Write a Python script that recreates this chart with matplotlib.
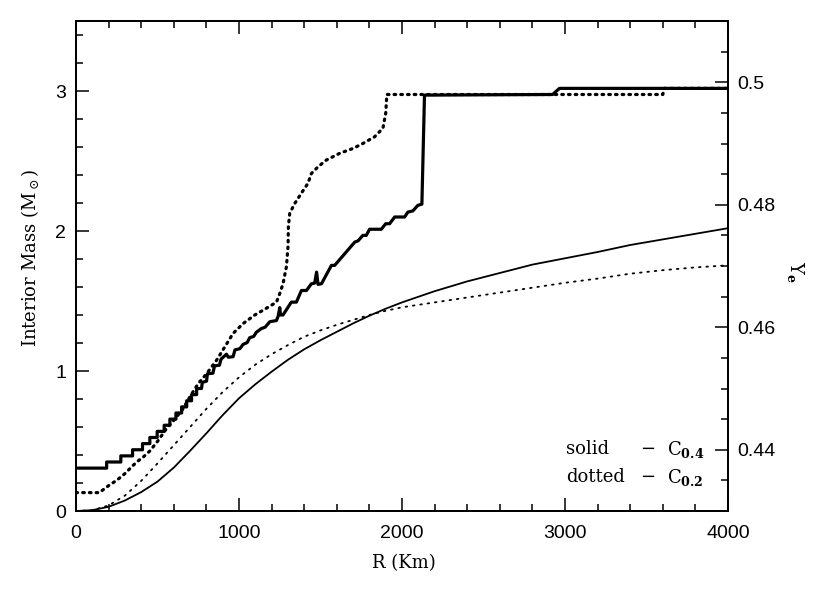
import matplotlib
matplotlib.use("Agg")
import matplotlib.pyplot as plt
from matplotlib.ticker import MultipleLocator

plt.rcParams["font.family"] = ["Liberation Sans", "DejaVu Sans"]
plt.rcParams["mathtext.fontset"] = "dejavuserif"

# interior mass (M_sun) vs radius (km), thin curves, left axis
r_mass_04 = [0, 100, 200, 300, 400, 500, 600, 700, 800, 900, 1000, 1100, 1200,
             1300, 1400, 1500, 1600, 1700, 1800, 1900, 2000, 2200, 2400, 2600,
             2800, 3000, 3200, 3400, 3600, 3800, 4000]
mass_04 = [0.0, 0.006, 0.03, 0.075, 0.135, 0.21, 0.31, 0.43, 0.555, 0.685,
           0.805, 0.905, 0.995, 1.08, 1.155, 1.22, 1.28, 1.34, 1.395, 1.445,
           1.49, 1.57, 1.64, 1.70, 1.76, 1.805, 1.85, 1.90, 1.94, 1.98, 2.02]

r_mass_02 = [0, 100, 200, 300, 400, 500, 600, 700, 800, 900, 1000, 1100, 1200,
             1300, 1400, 1500, 1600, 1700, 1800, 1900, 2000, 2200, 2400, 2600,
             2800, 3000, 3200, 3400, 3600, 3800, 4000]
mass_02 = [0.0, 0.005, 0.04, 0.11, 0.215, 0.34, 0.47, 0.60, 0.73, 0.85, 0.955,
           1.045, 1.12, 1.185, 1.245, 1.29, 1.33, 1.365, 1.40, 1.43, 1.455,
           1.49, 1.525, 1.56, 1.595, 1.63, 1.66, 1.695, 1.72, 1.74, 1.755]

# electron fraction Ye, thick curves, right axis
r_ye_04 = [0, 188, 188, 275, 275, 347, 347, 408, 408, 453, 453, 498, 498, 541,
           541, 576, 576, 613, 613, 648, 648, 679, 679, 709, 709, 740, 740, 770,
           775, 801, 806, 840, 850, 880, 890, 923, 935, 964, 975, 1005, 1025,
           1050, 1066, 1090, 1107, 1138, 1160, 1189, 1230, 1240, 1250, 1255,
           1270, 1321, 1352, 1383, 1414, 1444, 1464, 1476, 1485, 1506, 1567,
           1587, 1710, 1730, 1760, 1781, 1801, 1873, 1900, 1924, 1955, 2016,
           2036, 2067, 2097, 2122, 2138, 2924, 2966, 4000]
ye_04 = [0.437, 0.437, 0.438, 0.438, 0.439, 0.439, 0.440, 0.440, 0.441, 0.441,
         0.442, 0.442, 0.443, 0.443, 0.444, 0.444, 0.445, 0.445, 0.446, 0.446,
         0.447, 0.447, 0.448, 0.448, 0.449, 0.449, 0.450, 0.450, 0.451, 0.4512,
         0.4524, 0.4525, 0.4537, 0.4538, 0.4548, 0.4556, 0.4551, 0.4552,
         0.4563, 0.4565, 0.4572, 0.4575, 0.4583, 0.4585, 0.4592, 0.4598,
         0.4600, 0.4609, 0.4611, 0.4618, 0.4632, 0.4620, 0.4620, 0.4641,
         0.4641, 0.4660, 0.4660, 0.4671, 0.4672, 0.4690, 0.4670, 0.4671,
         0.4701, 0.4701, 0.4739, 0.4741, 0.4750, 0.4750, 0.4760, 0.4760,
         0.4769, 0.4769, 0.4780, 0.4780, 0.4788, 0.4790, 0.4799, 0.4801,
         0.4979, 0.4980, 0.4990, 0.4990]

r_ye_02 = [0, 143, 198, 249, 300, 341, 372, 412, 453, 504, 556, 600, 657, 700,
           750, 801, 862, 913, 964, 1025, 1097, 1168, 1230, 1250, 1270, 1291,
           1301, 1303, 1311, 1342, 1383, 1423, 1444, 1485, 1536, 1618, 1700,
           1760, 1832, 1883, 1900, 1907, 3600, 3610, 4000]
ye_02 = [0.4330, 0.4330, 0.4341, 0.4350, 0.4361, 0.4372, 0.4380, 0.4388,
         0.4398, 0.4415, 0.4435, 0.4448, 0.4467, 0.4487, 0.4508, 0.4524,
         0.4546, 0.4568, 0.4590, 0.4606, 0.4620, 0.4631, 0.4641, 0.4655,
         0.4671, 0.4699, 0.4733, 0.4764, 0.4786, 0.4802, 0.4819, 0.4835,
         0.4851, 0.4862, 0.4873, 0.4884, 0.4892, 0.4900, 0.4911, 0.4925,
         0.4949, 0.4980, 0.4980, 0.4990, 0.4990]

fig = plt.figure(figsize=(8.3, 5.9), dpi=100)
ax = fig.add_axes([76 / 830, 1 - 511 / 590, 652 / 830, 490 / 590])
ax2 = ax.twinx()

ax.plot(r_mass_04, mass_04, color="black", lw=1.3)
ax.plot(r_mass_02, mass_02, color="black", lw=1.3,
        linestyle=(0, (0.9, 3.2)), dash_capstyle="round")
ax2.plot(r_ye_04, ye_04, color="black", lw=2.3)
ax2.plot(r_ye_02, ye_02, color="black", lw=2.3,
         linestyle=(0, (0.5, 1.6)), dash_capstyle="round")

ax.set_xlim(0, 4000)
ax.set_ylim(0, 3.5)
ax2.set_ylim(0.43, 0.51)

ax.xaxis.set_major_locator(MultipleLocator(1000))
ax.xaxis.set_minor_locator(MultipleLocator(200))
ax.yaxis.set_major_locator(MultipleLocator(1))
ax.yaxis.set_minor_locator(MultipleLocator(0.2))
ax2.yaxis.set_minor_locator(MultipleLocator(0.005))
ax2.set_yticks([0.44, 0.46, 0.48, 0.5])
ax2.set_yticklabels(["0.44", "0.46", "0.48", "0.5"])

ax.tick_params(which="both", direction="in", top=True, right=False,
               width=1.1, labelsize=14)
ax.tick_params(which="major", length=9.5)
ax.tick_params(which="minor", length=4.8)
ax.tick_params(axis="x", pad=10)
ax.tick_params(axis="y", pad=7)
ax2.tick_params(which="both", direction="in", width=1.1, labelsize=14, pad=7)
ax2.tick_params(which="major", length=9.5)
ax2.tick_params(which="minor", length=4.8)
for a in (ax, ax2):
    for s in a.spines.values():
        s.set_linewidth(1.3)

serif = ["DejaVu Serif"]
fig.text(30 / 830, 1 - 258 / 590, r"Interior Mass (M$_\odot$)", rotation=90,
         ha="center", va="center", fontsize=13, family=serif)
fig.text(404 / 830, 1 - 563 / 590, "R (Km)", ha="center", va="center",
         fontsize=13, family=serif)
fig.text(795 / 830, 1 - 272 / 590, r"Y$_\mathbf{e}$", rotation=-90,
         ha="center", va="center", fontsize=13, family=serif)

legend_rows = [("solid", r"C$_\mathbf{0.4}$", 0.126),
               ("dotted", r"C$_\mathbf{0.2}$", 0.069)]
for word, label, yy in legend_rows:
    ax.text(0.751, yy, word, transform=ax.transAxes, ha="left",
            va="center", fontsize=13, family=serif)
    ax.text(0.877, yy, "\u2212", transform=ax.transAxes, ha="center",
            va="center", fontsize=13, family=serif)
    ax.text(0.906, yy, label, transform=ax.transAxes, ha="left",
            va="center", fontsize=13, family=serif)

fig.savefig("out.png", dpi=100)
